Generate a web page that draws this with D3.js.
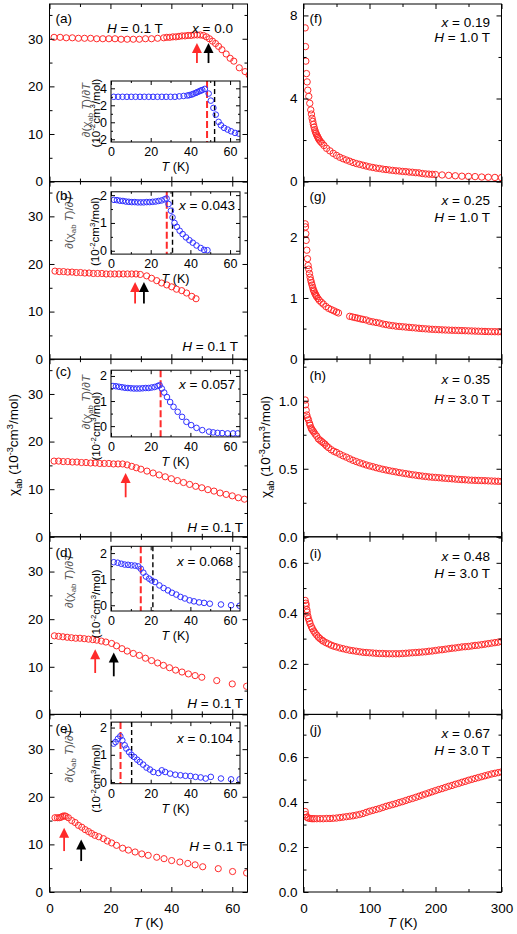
<!DOCTYPE html>
<html><head><meta charset="utf-8">
<script src="https://cdn.jsdelivr.net/npm/d3@7"></script>
<style>body{margin:0;background:#fff}svg{display:block;font-family:"Liberation Sans",Arial,sans-serif}</style>
</head><body><svg id="c" width="517" height="934"></svg>
<script>
// ---------------- DATA ----------------
// (a) x = 0.0
const T_A=[1.5,3.5,5.5,7.5,9.5,11.5,13.5,15.5,17.5,19.5,21.5,23.5,25.5,27.5,29.5,31.5,33.5,35.5,37.5,38.5,39.5,40.5,41.5,42.5,43.5,44.5,45.5,46.5,47.5,48.5,49.5,50.5,51.5,52.5,53.5,54.5,55.5,56.6,58,59.3,60.5,62.3,64.2,65.5];
const CHI_A=[30.3,30.3,30.2,30.2,30.1,30.1,30.1,30.0,30.0,30.0,30.0,29.9,29.9,29.9,29.9,30.0,30.0,30.1,30.2,30.3,30.3,30.4,30.4,30.5,30.6,30.6,30.7,30.7,30.8,30.8,30.8,30.7,30.4,30.0,29.5,29.0,28.4,27.7,26.8,25.9,25.3,23.9,23.1,22.4];
const TI_A=[1.4,3.6,5.8,8,10.2,12.4,14.6,16.8,19,21.2,23.4,25.6,27.8,30,32.2,34.4,36.6,38.5,39.5,40.6,41.5,42.7,43.5,44.5,45.2,46,47.3,49.2,50.3,51.6,52.8,54.2,55.4,57,58.8,60.5,62.5,64.4];
const D_A=[3.0,3.0,3.0,3.0,3.0,3.0,3.0,3.0,3.0,3.0,3.0,3.0,3.0,3.0,3.0,3.05,3.1,3.15,3.2,3.26,3.35,3.46,3.55,3.65,3.73,3.8,3.93,3.38,2.55,1.69,0.9,0.05,-0.35,-0.66,-0.86,-1.06,-1.25,-1.33];
// (b) x = 0.043
const T_B=[1.8,3.2,4.6,6,7.4,8.8,10.2,11.6,13,14.4,15.8,17.2,18.6,20,21.4,22.8,24.2,25.6,27,28.4,29.8,31.9,33.5,35.2,36.8,38.5,40.1,41.7,43.4,45,46.7,48.1];
const CHI_B=[18.5,18.4,18.4,18.3,18.3,18.2,18.2,18.1,18.1,18.0,18.0,18.0,17.9,17.9,17.9,17.9,17.9,17.9,17.9,17.9,17.8,17.5,17.0,16.5,16.0,15.6,15.2,14.7,14.4,13.9,13.2,12.7];
const TI_B=[1.5,3,4.5,6,7.5,9,10.5,12,13.5,15,16.5,18,19.5,21,22.5,24,25.5,27,28,29,30.2,31,32,33.2,34.6,36.1,37.8,39.5,41.2,43.1,45.2,46.9,48.6];
const D_B=[1.83,1.82,1.8,1.79,1.77,1.76,1.75,1.75,1.74,1.74,1.74,1.75,1.75,1.76,1.77,1.79,1.81,1.85,1.88,1.68,1.44,1.2,1.0,0.86,0.72,0.6,0.48,0.38,0.29,0.19,0.1,0.03,0.02];
// (c) x = 0.057
const T_C=[1.5,3,4.5,6,7.5,9,10.5,12,13.5,15,16.5,18,19.5,21,22.5,24,25.5,27,28.5,30,32,34,36,38,40,42,44,46,48,50,52,54,56,58,60,62,64];
const CHI_C=[15.9,15.9,15.8,15.8,15.7,15.7,15.6,15.6,15.5,15.5,15.4,15.4,15.4,15.3,15.3,15.3,15.1,14.8,14.5,14.2,13.8,13.4,13.0,12.6,12.2,11.8,11.4,11.0,10.6,10.3,9.9,9.6,9.2,8.9,8.6,8.2,7.9];
const TI_C=[1,2.5,4,5.5,7,8.5,10,11.5,13,14.5,16,17.5,19,20.5,22,23.5,24.5,25.6,26.8,28.2,29.8,31.5,33.6,35.8,38,40.4,43.1,46,49.4,51.5,53.7,56,58.8,61.5,63.9];
const D_C=[1.6,1.59,1.57,1.55,1.53,1.52,1.51,1.5,1.5,1.5,1.51,1.52,1.52,1.54,1.56,1.6,1.63,1.5,1.34,1.16,0.96,0.77,0.57,0.37,0.17,0.04,-0.07,-0.16,-0.22,-0.25,-0.27,-0.28,-0.29,-0.29,-0.29];
// (d) x = 0.068
const T_D=[1.6,3,4.4,5.8,7.2,8.6,10,11.4,12.8,14.2,15.5,17,18.5,20.4,22,23.8,25.5,27.5,29.5,31.5,33.5,35.5,37.4,39.4,41.4,43.5,45.6,47.8,50,54.9,60,64.7];
const CHI_D=[16.5,16.4,16.3,16.2,16.1,16.0,16.0,15.9,15.8,15.7,15.6,15.4,15.2,14.9,14.4,13.8,13.3,12.8,12.4,11.8,11.3,10.8,10.3,9.8,9.3,8.9,8.5,8.15,7.8,7.1,6.4,5.9];
const TI_D=[1.4,3.4,5.2,6.9,8.6,10.3,12,13.7,15,16.3,17.6,19.2,20.5,22.2,24.4,26.5,28.7,30.7,32.9,35,37.2,39.6,41.8,44.4,46.9,49.8,55.4,60.5,64.8];
const D_D=[1.65,1.63,1.59,1.56,1.55,1.53,1.52,1.49,1.4,1.25,1.1,1.02,0.95,0.89,0.76,0.66,0.57,0.48,0.41,0.32,0.26,0.19,0.15,0.11,0.09,0.06,0.03,0.0,-0.02];
// (e) x = 0.104
const T_E=[1.8,2.6,3.2,3.8,4.3,4.9,5.4,6.2,7.3,8.4,9.5,10.6,11.7,12.8,13.8,14.9,16.2,17.7,19,20.4,22,24,25.9,28.1,30.3,32.4,35.2,37.6,40.1,42.8,45.4,47.8,50.3,55.4,60.1,64.7];
const CHI_E=[15.6,15.6,15.6,15.7,15.9,16.0,15.9,15.6,15.0,14.6,14.0,13.6,13.1,12.7,12.3,11.9,11.6,11.2,10.7,10.3,9.8,9.2,8.8,8.4,8.0,7.7,7.3,7.0,6.6,6.3,6.0,5.7,5.3,4.9,4.3,4.0];
const TI_E=[1.3,2.3,3.5,4.7,5.7,6.9,7.7,9.1,10.3,11.7,13.2,14.5,16.2,17.9,19.6,21.3,23.9,25.6,27.3,29.8,32.4,35,37.5,40,42.6,45.2,47.7,50.3,55.4,60.5,64.8];
const D_E=[1.41,1.47,1.59,1.68,1.53,1.35,1.23,1.1,1.0,0.92,0.82,0.74,0.64,0.53,0.46,0.37,0.33,0.43,0.37,0.31,0.27,0.25,0.23,0.22,0.19,0.17,0.13,0.19,0.13,0.1,0.1];
// transition temperatures (red = first, black = second) and arrow extents (tip, tail)
const TRANS_A=[48.4,52.2], ARROW_A=[[29.1,24.9],[29.1,24.9]];
const TRANS_B=[28.1,31.0], ARROW_B=[[16.2,11.7],[16.2,11.7]];
const TRANS_C=[25.0],      ARROW_C=[[13.4,8.3]];
const TRANS_D=[15.0,21.1], ARROW_D=[[13.7,8.7],[13.0,8.0]];
const TRANS_E=[4.8,10.4],  ARROW_E=[[13.5,8.6],[11.0,6.5]];

// (f) x = 0.19
const T_F=[2.5,3,3.5,4.5,5.5,6.5,8,9.5,11,12,13,14,15,16,17,18,19,20,21,22,23,24,26,28,31,35,40,45,50,55,60,65,70,75,80,85,90,95,100,105,110,115,120,125,130,135,140,145,150,155,160,165,170,175,180,185,190,195,200,210,220,230,240,250,260,270,280,290,300];
const CHI_F=[7.4,6.5,5.8,5.2,4.8,4.4,4.1,3.77,3.45,3.25,3.05,2.9,2.75,2.62,2.5,2.4,2.32,2.25,2.18,2.12,2.06,2.0,1.92,1.85,1.74,1.6,1.48,1.36,1.26,1.17,1.1,1.04,0.98,0.92,0.87,0.83,0.79,0.75,0.71,0.68,0.65,0.63,0.6,0.58,0.56,0.54,0.52,0.51,0.49,0.48,0.46,0.45,0.43,0.42,0.39,0.37,0.36,0.35,0.34,0.32,0.3,0.28,0.26,0.25,0.24,0.22,0.21,0.2,0.19];
// (g) x = 0.25
const T_G=[2.5,3,3.5,4,5,6,7,8,9,10,11,12,13,14,15,16,17,18,19,20,22,24,27,30,34,38,42,46,50,53,70,74,78,82,86,90,95,100,105,110,115,120,125,130,135,140,145,150,155,160,165,170,175,180,185,190,195,200,205,210,215,220,225,230,235,240,245,250,255,260,265,270,275,280,285,290,295,300];
const CHI_G=[2.21,2.16,2.05,1.94,1.78,1.64,1.53,1.47,1.4,1.34,1.29,1.25,1.21,1.17,1.13,1.11,1.08,1.06,1.04,1.02,0.99,0.96,0.93,0.9,0.86,0.83,0.81,0.79,0.77,0.755,0.7,0.69,0.68,0.67,0.66,0.65,0.64,0.62,0.61,0.6,0.59,0.575,0.565,0.555,0.548,0.54,0.535,0.53,0.525,0.52,0.515,0.51,0.505,0.5,0.496,0.492,0.488,0.485,0.482,0.479,0.477,0.475,0.473,0.471,0.469,0.467,0.465,0.463,0.461,0.459,0.457,0.455,0.453,0.451,0.45,0.449,0.448,0.447];
// (h) x = 0.35
const T_H=[2.5,3,4,5,6,7.5,9,10,11.5,12.5,14,15.5,17.5,20,22.5,25,27.5,30,32.5,35,38,42,46,50,55,60,65,70,75,80,85,90,95,100,105,110,115,120,125,130,135,140,145,150,155,160,165,170,175,180,185,190,195,200,205,210,215,220,225,230,235,240,245,250,255,260,265,270,275,280,285,290,295,300];
const CHI_H=[1.005,0.97,0.93,0.895,0.875,0.86,0.835,0.82,0.8,0.79,0.78,0.77,0.755,0.74,0.72,0.71,0.7,0.69,0.68,0.667,0.655,0.64,0.628,0.62,0.607,0.595,0.585,0.573,0.562,0.553,0.544,0.536,0.528,0.521,0.515,0.508,0.502,0.496,0.491,0.486,0.481,0.477,0.472,0.468,0.464,0.46,0.456,0.453,0.449,0.446,0.443,0.44,0.438,0.436,0.434,0.432,0.43,0.428,0.426,0.424,0.422,0.42,0.419,0.417,0.416,0.415,0.414,0.413,0.412,0.411,0.41,0.409,0.408,0.407];
// (i) x = 0.48
const T_I=[2.5,3.5,4,5,5.5,6.5,7.5,9,10,12,13.5,15.5,17.5,20,22.5,25,28,30,34,38,42,46,50,55,60,65,70,75,80,85,90,95,100,105,110,115,120,125,130,135,140,145,150,155,160,165,170,175,180,185,190,195,200,205,210,215,220,225,230,235,240,245,250,255,260,265,270,275,280,285,290,295,300];
const CHI_I=[0.451,0.44,0.432,0.415,0.405,0.39,0.379,0.368,0.359,0.347,0.339,0.33,0.322,0.314,0.306,0.3,0.294,0.29,0.284,0.279,0.274,0.27,0.267,0.263,0.26,0.257,0.254,0.252,0.25,0.248,0.246,0.245,0.244,0.243,0.242,0.241,0.241,0.24,0.24,0.24,0.24,0.24,0.241,0.242,0.243,0.244,0.245,0.246,0.247,0.248,0.25,0.251,0.253,0.255,0.256,0.258,0.26,0.262,0.263,0.265,0.267,0.268,0.269,0.271,0.273,0.274,0.276,0.278,0.28,0.282,0.284,0.286,0.288];
// (j) x = 0.67
const T_J=[2.5,3.5,5,7,10,13,16,20,25,30,35,40,45,50,55,60,65,70,75,80,85,90,95,100,105,110,115,120,125,130,135,140,145,150,155,160,165,170,175,180,185,190,195,200,205,210,215,220,225,230,235,240,245,250,255,260,265,270,275,280,285,290,295,300];
const CHI_J=[0.358,0.344,0.333,0.329,0.327,0.326,0.326,0.326,0.326,0.326,0.327,0.327,0.328,0.329,0.331,0.333,0.335,0.337,0.339,0.342,0.345,0.349,0.354,0.359,0.363,0.367,0.371,0.376,0.381,0.385,0.389,0.393,0.398,0.402,0.407,0.412,0.416,0.421,0.426,0.431,0.436,0.441,0.446,0.451,0.456,0.46,0.465,0.47,0.474,0.479,0.483,0.488,0.492,0.497,0.501,0.505,0.509,0.513,0.517,0.521,0.525,0.528,0.531,0.534];

// ---------------- LAYOUT / STYLE ----------------
const svg=d3.select('#c');
svg.append('rect').attr('width',517).attr('height',934).attr('fill','#fff');
const FONT='"Liberation Sans",Arial,sans-serif';
const FS=13.5, IFS=12.5, TFS=11.5;
const RED='#ff2a2a', BLUE='#3232ff';
const LX=[49.5,247.5], RX=[303.5,501.5];
const PH=177.6, TOP0=4;
const panelTop=i=>TOP0+i*PH;
const intFmt=d=>String(d);

function rich(t,parts,fs){
  let cur=0;
  parts.forEach(p=>{
    const target=p.sub?fs*0.28:p.sup?-fs*0.38:0;
    const ts=t.append('tspan').text(p.t).attr('dy',(target-cur).toFixed(2));
    cur=target;
    if(p.sub||p.sup) ts.attr('font-size',fs*0.68);
    if(p.i) ts.attr('font-style','italic');
  });
}
function txt(g,x,y,parts,opt){
  opt=opt||{};
  const t=g.append('text').attr('x',x).attr('y',y).attr('font-size',opt.fs||FS)
    .attr('font-family',FONT).attr('fill',opt.fill||'#000').attr('text-anchor',opt.anchor||'start');
  if(opt.rot) t.attr('transform',`rotate(-90,${x},${y})`);
  rich(t,parts,opt.fs||FS);
  return t;
}

function axes(g,x,y,o){
  const [x0,x1]=x.range(), [yb,yt]=y.range();
  const put=(fn,scale,vals,size,tx,ty,labels,fmt,pad,fs)=>{
    const a=fn(scale).tickValues(vals).tickSize(-size).tickPadding(pad);
    if(!labels) a.tickFormat(''); else a.tickFormat(fmt||intFmt);
    const ag=g.append('g').attr('transform',`translate(${tx},${ty})`).call(a);
    ag.attr('font-family',FONT).attr('font-size',fs);
    ag.select('.domain').remove();
    ag.selectAll('line').attr('stroke','#000').attr('stroke-width',1);
    ag.selectAll('text').attr('fill','#000');
  };
  put(d3.axisLeft,y,o.yMajor,o.maj,x0,0,true,o.yFmt,o.yPad,o.fs);
  put(d3.axisLeft,y,o.yMinor,o.min,x0,0,false,null,0,o.fs);
  put(d3.axisRight,y,o.yMajor,o.maj,x1,0,false,null,0,o.fs);
  put(d3.axisRight,y,o.yMinor,o.min,x1,0,false,null,0,o.fs);
  put(d3.axisBottom,x,o.xMajor,o.maj,0,yb,o.xLabels,o.xFmt,o.xPad,o.fs);
  put(d3.axisBottom,x,o.xMinor,o.min,0,yb,false,null,0,o.fs);
  put(d3.axisTop,x,o.xMajor,o.maj,0,yt,false,null,0,o.fs);
  put(d3.axisTop,x,o.xMinor,o.min,0,yt,false,null,0,o.fs);
  g.append('rect').attr('x',x0).attr('y',yt).attr('width',x1-x0).attr('height',yb-yt)
    .attr('fill','none').attr('stroke','#000').attr('stroke-width',1);
}

let clipId=0;
function scatter(g,x,y,T,V,color,r){
  const [x0,x1]=x.range(), [yb,yt]=y.range();
  const id='clip'+(clipId++);
  g.append('clipPath').attr('id',id).append('rect').attr('x',x0).attr('y',yt).attr('width',x1-x0).attr('height',yb-yt);
  g.append('g').attr('clip-path',`url(#${id})`).selectAll('circle').data(T).join('circle')
    .attr('cx',d=>x(d)).attr('cy',(d,i)=>y(V[i])).attr('r',r)
    .attr('fill','none').attr('stroke',color).attr('stroke-width',1);
}

function arrow(g,x,y,T,tip,tail,color){
  const cx=x(T), yt=y(tip), yl=y(tail);
  g.append('line').attr('x1',cx).attr('x2',cx).attr('y1',yt+8).attr('y2',yl)
    .attr('stroke',color).attr('stroke-width',1.8);
  g.append('path').attr('d',`M${cx},${yt} L${cx+5},${yt+10} L${cx-5},${yt+10} Z`).attr('fill',color);
}

// ---------- LEFT COLUMN ----------
const xL=d3.scaleLinear().domain([0,65]).range(LX);
// tt: inset y-title placement [line1 x, line1 y(rel), line2 x, line2 y(rel)]
const left=[
 {T:T_A,V:CHI_A,TI:TI_A,D:D_A,trans:TRANS_A,arr:ARROW_A,lab:'(a)',xs:'0.0',
  inset:[77,138],iyd:[-2.32,4.86],iyMajor:[-2,0,2,4],iyMinor:[-1,1,3],tt:[90,106,99.5,109],
  labY:19,xTxt:[233,28.5],hTxt:[107,28.5,'start']},
 {T:T_B,V:CHI_B,TI:TI_B,D:D_B,trans:TRANS_B,arr:ARROW_B,lab:'(b)',xs:'0.043',
  inset:[10.2,72.5],iyd:[-0.12,2.12],iyMajor:[0,1,2],iyMinor:[0.5,1.5],tt:[73,40,99.5,50],
  labY:18.5,xTxt:[235,28],hTxt:[238,169.8,'end']},
 {T:T_C,V:CHI_C,TI:TI_C,D:D_C,trans:TRANS_C,arr:ARROW_C,lab:'(c)',xs:'0.057',
  inset:[11,77.7],iyd:[-0.43,2.23],iyMajor:[0,1,2],iyMinor:[0.5,1.5],tt:[90,43,100,67],
  labY:16.5,xTxt:[235,30],hTxt:[243,172.3,'end']},
 {T:T_D,V:CHI_D,TI:TI_D,D:D_D,trans:TRANS_D,arr:ARROW_D,lab:'(d)',xs:'0.068',
  inset:[9.5,74.2],iyd:[-0.22,2.26],iyMajor:[0,1,2],iyMinor:[0.5,1.5],tt:[73,44,100,67],
  labY:20,xTxt:[233,28.7],hTxt:[243,171.3,'end']},
 {T:T_E,V:CHI_E,TI:TI_E,D:D_E,trans:TRANS_E,arr:ARROW_E,lab:'(e)',xs:'0.104',
  inset:[7.7,69.3],iyd:[-0.06,2.2],iyMajor:[0,1,2],iyMinor:[0.5,1.5],tt:[73,41,100,64],
  labY:19,xTxt:[233,29],hTxt:[245,136.7,'end']}
];
const TRANS_COL=[RED,'#000'];
left.forEach((p,i)=>{
  const top=panelTop(i), bot=panelTop(i+1);
  const g=svg.append('g');
  const y=d3.scaleLinear().domain([0,37.3]).range([bot,top]);
  scatter(g,xL,y,p.T,p.V,RED,3.1);
  axes(g,xL,y,{yMajor:[0,10,20,30],yMinor:[5,15,25,35],xMajor:[0,20,40,60],xMinor:[10,30,50],
    maj:5,min:3,yPad:6.5,xPad:11,fs:FS,xLabels:i===4});
  p.trans.forEach((t,k)=>arrow(g,xL,y,t,p.arr[k][0],p.arr[k][1],TRANS_COL[k]));
  // inset
  const ig=svg.append('g');
  const iy=d3.scaleLinear().domain(p.iyd).range([top+p.inset[1],top+p.inset[0]]);
  const ix=d3.scaleLinear().domain([0,65]).range([111,240]);
  ig.append('rect').attr('x',111).attr('y',top+p.inset[0]).attr('width',129).attr('height',p.inset[1]-p.inset[0]).attr('fill','#fff');
  p.trans.forEach((t,k)=>{
    ig.append('line').attr('x1',ix(t)).attr('x2',ix(t)).attr('y1',top+p.inset[0]).attr('y2',top+p.inset[1])
      .attr('stroke',TRANS_COL[k]).attr('stroke-width',k===0?2:1.4).attr('stroke-dasharray',k===0?'7,3':'5,3');
  });
  scatter(ig,ix,iy,p.TI,p.D,BLUE,2.8);
  axes(ig,ix,iy,{yMajor:p.iyMajor,yMinor:p.iyMinor,xMajor:[0,20,40,60],xMinor:[10,30,50],
    maj:4,min:2,yPad:4,xPad:5,fs:IFS,xLabels:true});
  const ib=top+p.inset[1];
  txt(ig,175.5,ib+29,[{t:'T',i:true},{t:' (K)'}],{anchor:'middle',fs:IFS});
  txt(ig,p.tt[0],top+p.tt[1],[{t:'∂(χ'},{t:'ab',sub:true},{t:' '},{t:'T',i:true},{t:')/∂'},{t:'T',i:true}],{anchor:'middle',fs:TFS,rot:true,fill:'#555'});
  txt(ig,p.tt[2],top+p.tt[3],[{t:'(10'},{t:'-2',sup:true},{t:'cm'},{t:'3',sup:true},{t:'/mol)'}],{anchor:'middle',fs:TFS,rot:true});
  // labels
  txt(svg,55.5,top+p.labY,[{t:p.lab}]);
  txt(svg,p.xTxt[0],top+p.xTxt[1],[{t:'x',i:true},{t:' = '+p.xs}],{anchor:'end'});
  txt(svg,p.hTxt[0],top+p.hTxt[1],[{t:'H',i:true},{t:' = 0.1 T'}],{anchor:p.hTxt[2]});
});

// ---------- RIGHT COLUMN ----------
const xR=d3.scaleLinear().domain([0,300]).range(RX);
const right=[
 {T:T_F,V:CHI_F,yd:[0,8.55],yMajor:[0,4,8],yMinor:[2,6],fmt:d3.format('d'),lab:'(f)',xs:'0.19',h:'1.0',ty:[18.7,23.4,38]},
 {T:T_G,V:CHI_G,yd:[0,2.9],yMajor:[0,1,2],yMinor:[0.5,1.5,2.5],fmt:d3.format('d'),lab:'(g)',xs:'0.25',h:'1.0',ty:[19.1,23.7,40.5]},
 {T:T_H,V:CHI_H,yd:[0,1.305],yMajor:[0,0.5,1.0],yMinor:[0.25,0.75,1.25],fmt:d3.format('.1f'),lab:'(h)',xs:'0.35',h:'3.0',ty:[20.7,25,45]},
 {T:T_I,V:CHI_I,yd:[0,0.703],yMajor:[0,0.2,0.4,0.6],yMinor:[0.1,0.3,0.5,0.7],fmt:d3.format('.1f'),lab:'(i)',xs:'0.48',h:'3.0',ty:[21.5,24.2,41.5]},
 {T:T_J,V:CHI_J,yd:[0,0.79],yMajor:[0,0.2,0.4,0.6],yMinor:[0.1,0.3,0.5,0.7],fmt:d3.format('.1f'),lab:'(j)',xs:'0.67',h:'3.0',ty:[20,24,40.7]}
];
right.forEach((p,i)=>{
  const top=panelTop(i), bot=panelTop(i+1);
  const g=svg.append('g');
  const y=d3.scaleLinear().domain(p.yd).range([bot,top]);
  scatter(g,xR,y,p.T,p.V,RED,3.2);
  axes(g,xR,y,{yMajor:p.yMajor,yMinor:p.yMinor,yFmt:p.fmt,xMajor:[0,100,200,300],xMinor:[50,150,250],
    maj:5,min:3,yPad:6,xPad:11,fs:FS,xLabels:i===4});
  txt(svg,309.5,top+p.ty[0],[{t:p.lab}]);
  txt(svg,490,top+p.ty[1],[{t:'x',i:true},{t:' = '+p.xs}],{anchor:'end'});
  txt(svg,490,top+p.ty[2],[{t:'H',i:true},{t:' = '+p.h+' T'}],{anchor:'end'});
});

// axis titles
const yt=[{t:'χ'},{t:'ab',sub:true},{t:' (10'},{t:'-3',sup:true},{t:'cm'},{t:'3',sup:true},{t:'/mol)'}];
txt(svg,18,445,yt,{anchor:'middle',rot:true});
txt(svg,270,447,yt,{anchor:'middle',rot:true});
txt(svg,148.5,926.5,[{t:'T',i:true},{t:' (K)'}],{anchor:'middle'});
txt(svg,402.5,926.5,[{t:'T',i:true},{t:' (K)'}],{anchor:'middle'});
</script></body></html>
